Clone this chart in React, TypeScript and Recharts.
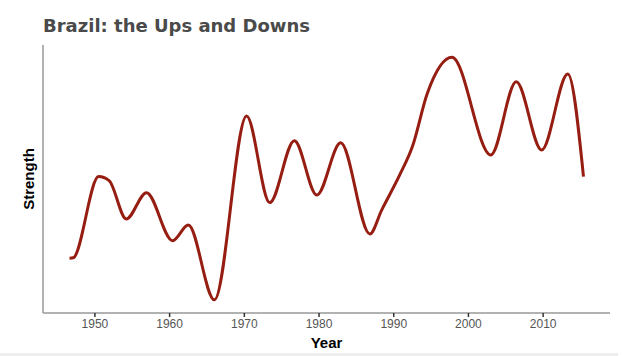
import React from 'react';
import { LineChart, Line, XAxis, YAxis, Label } from 'recharts';

// key points (year, strength on a 0-100 scale)
const years = [
  1946.6, 1947.1, 1950.5, 1951.9, 1954.2, 1956.9, 1960.4, 1962.5, 1966.0,
  1970.3, 1973.4, 1976.7, 1979.7, 1982.9, 1986.8, 1988.4, 1990.8, 1992.5,
  1994.5, 1997.8, 2003.0, 2006.4, 2009.8, 2013.3, 2015.4,
];
const strength = [
  20.4, 20.6, 50.9, 49.4, 35.1, 44.9, 27.0, 32.8, 4.9,
  73.5, 41.2, 64.3, 44.0, 63.5, 29.5, 38.5, 51.5, 62.1,
  82.0, 95.4, 59.0, 86.3, 60.8, 89.2, 50.9,
];
const yearTicks = [1950, 1960, 1970, 1980, 1990, 2000, 2010];

const data = years.map((year, i) => ({ year, strength: strength[i] }));

const font = '"Liberation Sans", Arial, sans-serif';

const YLabel = (props: any) => {
  const vb = props.viewBox || {};
  const cx = 28;
  const cy = (vb.y || 0) + (vb.height || 0) / 2;
  return (
    <text
      x={cx}
      y={cy}
      transform={`rotate(-90, ${cx}, ${cy})`}
      textAnchor="middle"
      dominantBaseline="central"
      fill="#000"
      fontSize={15}
      fontWeight="bold"
      fontFamily={font}
    >
      Strength
    </text>
  );
};

const App = () => {
  return (
    <div style={{ position: 'absolute', left: 0, top: 0, width: 623, height: 356, background: '#fff' }}>
      <div
        style={{
          position: 'absolute',
          left: 43,
          top: 15,
          fontFamily: '"DejaVu Sans", sans-serif',
          fontWeight: 'bold',
          fontSize: 18,
          color: '#4a4a4a',
        }}
      >
        Brazil: the Ups and Downs
      </div>
      <LineChart
        width={623}
        height={356}
        data={data}
        margin={{ top: 45, right: 13, left: 0, bottom: 0 }}
      >
        <XAxis
          dataKey="year"
          type="number"
          domain={[1943.05, 2018.95]}
          ticks={yearTicks}
          allowDataOverflow
          height={43}
          tickSize={4}
          tickLine={{ stroke: '#333', strokeWidth: 1.5 }}
          axisLine={{ stroke: '#999', strokeWidth: 1.5 }}
          tick={{ fill: '#555', fontSize: 12, fontFamily: font }}
          label={{
            value: 'Year',
            position: 'insideBottom',
            offset: 8,
            fill: '#000',
            fontSize: 15,
            fontWeight: 'bold',
            fontFamily: font,
          }}
        />
        <YAxis
          type="number"
          domain={[0, 100]}
          width={43}
          tick={false}
          tickLine={false}
          axisLine={{ stroke: '#999', strokeWidth: 1.5 }}
        >
          <Label content={<YLabel />} />
        </YAxis>
        <Line
          type="monotone"
          dataKey="strength"
          stroke="#961d12"
          strokeWidth={3}
          dot={false}
          isAnimationActive={false}
        />
      </LineChart>
      <div style={{ position: 'absolute', left: 0, top: 353, width: 618, height: 3, background: '#eeeeee' }} />
    </div>
  );
};

export default App;
